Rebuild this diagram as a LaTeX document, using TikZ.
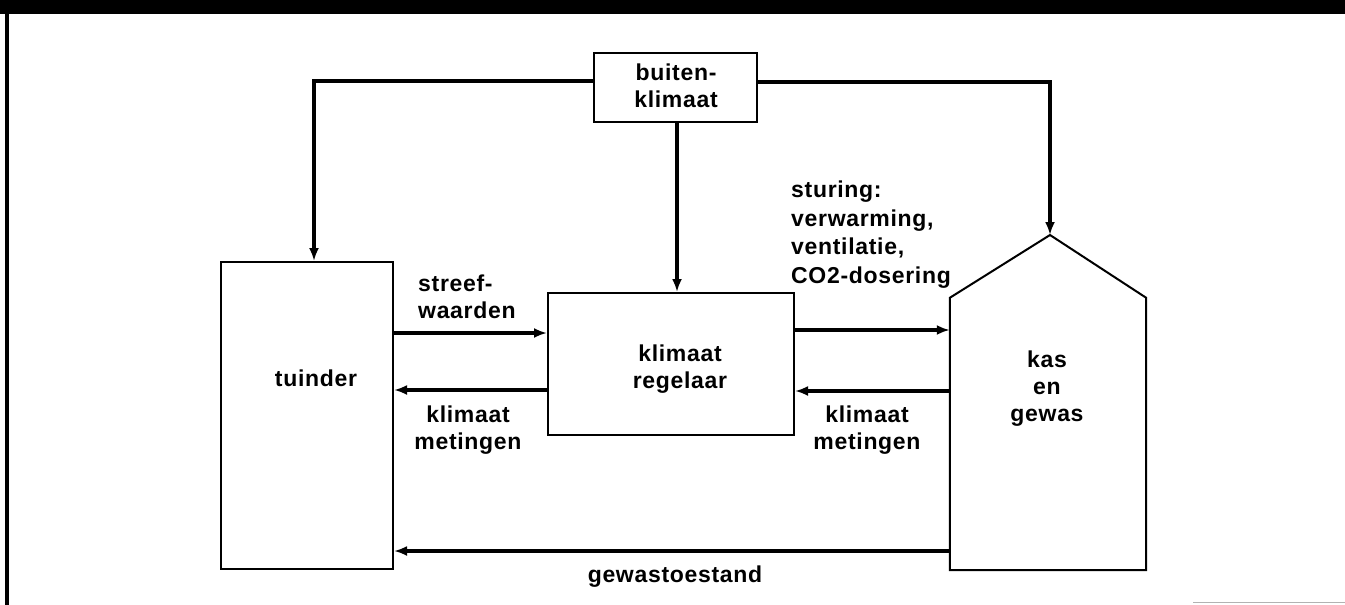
\documentclass[tikz,border=0pt]{standalone}
\usepackage{fontspec}
\setmainfont{Liberation Sans}[LetterSpace=3]
\usetikzlibrary{arrows.meta}
\begin{document}
\begin{tikzpicture}[x=1pt,y=-1pt,
  box/.style={draw,line width=2pt,inner sep=0pt,rectangle},
  lbl/.style={font=\fontsize{23}{27}\selectfont\bfseries,align=center,inner sep=0pt},
  arr/.style={line width=3.2pt,-{Latex[length=13pt,width=10pt]}}]
\useasboundingbox (0,0) rectangle (1345,605);
% frame remnants
\fill (0,0) rectangle (1345,14);
\draw[line width=3.5pt] (7,14) -- (7,605);
\draw[gray!60,line width=1pt] (1193,602) -- (1345,602);
% boxes
\node[box,minimum width=163pt,minimum height=69pt] (buiten) at (675.5,87.5) {};
\node[lbl] (buitenlbl) at (676,86) {buiten-\\klimaat};
\node[box,minimum width=172pt,minimum height=307pt] (tuinder) at (307,415.5) {};
\node[lbl] (tuinderlbl) at (316,378) {tuinder};
\node[box,minimum width=246pt,minimum height=142pt] (reg) at (671,364) {};
\node[lbl] (reglbl) at (680,369) {klimaat\\regelaar};
\node[minimum width=196pt,minimum height=272pt,inner sep=0pt] (kas) at (1048,434) {};
\coordinate (peak) at (1050,235);
\draw[line width=2pt,line join=miter] (kas.south west) -- (kas.north west) -- (peak) -- (kas.north east) -- (kas.south east) -- cycle;
\node[lbl] (kaslbl) at (1047,389) {kas\\en\\gewas};
% connectors
\draw[arr] (buiten.west |- 0,81) -| (314,0 |- tuinder.north);
\draw[arr] (677,0 |- buiten.south) -- (677,0 |- reg.north);
\draw[arr] (buiten.east |- 0,82) -| (peak);
\draw[arr] (tuinder.east |- 0,333) -- (reg.west |- 0,333);
\draw[arr] (reg.west |- 0,390) -- (tuinder.east |- 0,390);
\draw[arr] (reg.east |- 0,330) -- (kas.west |- 0,330);
\draw[arr] (kas.west |- 0,391) -- (reg.east |- 0,391);
\draw[arr] (kas.west |- 0,551) -- (tuinder.east |- 0,551);
% labels
\node[lbl,align=left,anchor=west] (streef) at (418,296.5) {streef-\\waarden};
\node[lbl] (meet1) at (468,430) {klimaat\\metingen};
\node[lbl,align=left,anchor=west,font=\fontsize{23}{28.5}\selectfont\bfseries] (sturing) at (791,234.5) {sturing:\\verwarming,\\ventilatie,\\CO2-dosering};
\node[lbl] (meet2) at (867,430) {klimaat\\metingen};
\node[lbl] (gewas) at (675,577) {gewastoestand};
\end{tikzpicture}
\end{document}
